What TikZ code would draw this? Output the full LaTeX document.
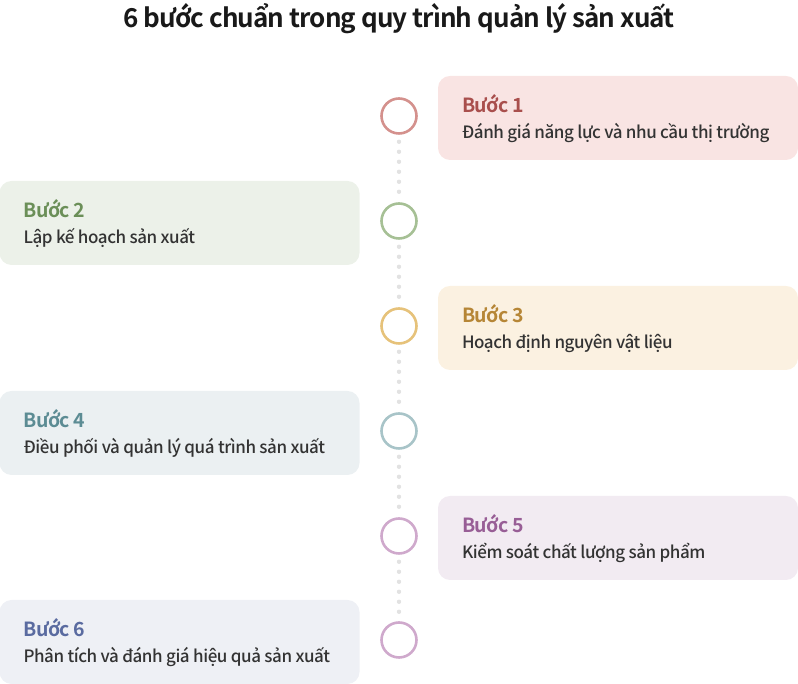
\documentclass[tikz,border=0pt]{standalone}
\usepackage{fontspec}
\setmainfont{Noto Sans CJK KR}[UprightFont=* Medium, BoldFont=* Bold]
\usetikzlibrary{positioning}
\definecolor{s1fill}{HTML}{F9E4E3}\definecolor{s1head}{HTML}{A94F4D}\definecolor{s1ring}{HTML}{D4918D}
\definecolor{s2fill}{HTML}{ECF1E9}\definecolor{s2head}{HTML}{6B8F58}\definecolor{s2ring}{HTML}{A6C095}
\definecolor{s3fill}{HTML}{FBF1E1}\definecolor{s3head}{HTML}{B68636}\definecolor{s3ring}{HTML}{E6C27A}
\definecolor{s4fill}{HTML}{EBF0F2}\definecolor{s4head}{HTML}{5C8C94}\definecolor{s4ring}{HTML}{A8C4C8}
\definecolor{s5fill}{HTML}{F2EBF2}\definecolor{s5head}{HTML}{985E96}\definecolor{s5ring}{HTML}{CFA9CC}
\definecolor{s6fill}{HTML}{EEF0F5}\definecolor{s6head}{HTML}{5A6BA0}\definecolor{s6ring}{HTML}{CFA9CC}
\definecolor{txt}{HTML}{333333}
\definecolor{dotgray}{HTML}{E2E2E2}

\begin{document}
\begin{tikzpicture}[x=1pt,y=1pt,
  stepbox/.style={rounded corners=12pt,minimum width=360pt,minimum height=84pt,inner sep=0pt},
  ring/.style={circle,draw,line width=2.6pt,fill=white,minimum size=35pt,inner sep=0pt},
  head/.style={font=\fontsize{19.5}{22}\selectfont\bfseries\addfontfeatures{LetterSpace=-3},anchor=base west,inner sep=0pt},
  desc/.style={font=\fontsize{17}{20}\selectfont\addfontfeatures{LetterSpace=-2.5},text=txt,anchor=base west,inner sep=0pt},
  dotline/.style={dotgray,line width=4.4pt,line cap=round,dash pattern=on 0pt off 10pt,shorten <=7pt,shorten >=3pt}]
  \useasboundingbox (0,0) rectangle (798,684);

  \node[font=\fontsize{26}{30}\selectfont\bfseries\addfontfeatures{LetterSpace=-3.5},anchor=base,text=black!90] (title) at (399,656) {6 bước chuẩn trong quy trình quản lý sản xuất};

  \foreach \n/\xc/\yc/\desc in {1/618/566/{Đánh giá năng lực và nhu cầu thị trường},
    2/179.5/461/{Lập kế hoạch sản xuất},
    3/618/356/{Hoạch định nguyên vật liệu},
    4/179.5/251/{Điều phối và quản lý quá trình sản xuất},
    5/618/146/{Kiểm soát chất lượng sản phẩm},
    6/179.5/42/{Phân tích và đánh giá hiệu quả sản xuất}}{%
    \node[stepbox,fill=s\n fill] (box\n) at (\xc,\yc) {};
    \node[head,text=s\n head] (head\n) at ([xshift=24pt,yshift=5pt]box\n.west) {Bước \n};
    \node[desc] (desc\n) at ([xshift=24pt,yshift=-21pt]box\n.west) {\desc};
    \node[ring,draw=s\n ring] (ring\n) at (399,\yc+2) {};
  }

  \foreach \i in {1,2,3,4,5}{%
    \pgfmathtruncatemacro{\j}{\i+1}
    \draw[dotline] (ring\i.south) -- (ring\j.north);
  }
\end{tikzpicture}
\end{document}
